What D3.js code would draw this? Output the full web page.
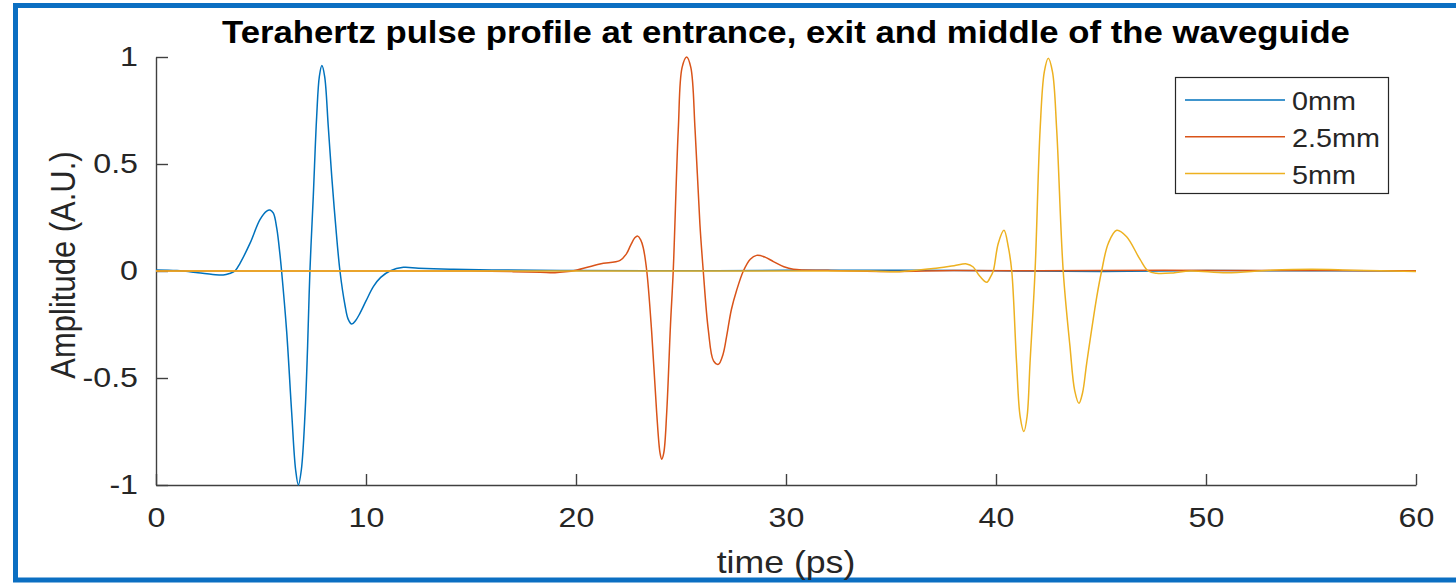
<!DOCTYPE html>
<html>
<head>
<meta charset="utf-8">
<script src="https://cdn.jsdelivr.net/npm/d3@7"></script>
<style>
  html, body { margin: 0; padding: 0; background: #fff; }
  svg { display: block; font-family: "Liberation Sans", Arial, Helvetica, sans-serif; }
</style>
</head>
<body>
<svg id="chart" width="1456" height="583"></svg>
<script>
// ---------- data ----------
const seriesNames = ["0mm", "2.5mm", "5mm"];

const t0 = [0, 1, 2, 2.7, 3.2, 3.5, 3.76, 4.0, 4.48, 4.95, 5.27, 5.43, 5.59, 5.75, 5.9, 5.98, 6.22, 6.46, 6.65, 6.78, 6.92, 7.1, 7.22, 7.33, 7.49, 7.65, 7.78, 7.9, 8.03, 8.2, 8.37, 8.55, 8.76, 9.0, 9.15, 9.32, 9.5, 9.71, 10.0, 10.35, 10.7, 11.14, 11.78, 12.5, 14, 16, 20, 25, 30, 36, 40, 45, 50, 55, 60];
const v0 = [0.005, 0.002, -0.008, -0.016, -0.019, -0.012, 0.0, 0.036, 0.13, 0.24, 0.28, 0.285, 0.27, 0.2, 0.08, 0.0, -0.28, -0.66, -0.93, -1.0, -0.93, -0.66, -0.35, 0.0, 0.35, 0.72, 0.91, 0.96, 0.91, 0.68, 0.44, 0.22, 0.0, -0.16, -0.225, -0.248, -0.232, -0.198, -0.14, -0.073, -0.03, 0.0, 0.017, 0.013, 0.008, 0.005, 0.002, 0.001, 0.003, 0.004, 0.001, -0.002, 0.002, 0.001, 0.0];

const t1 = [0, 10, 15, 17, 18.3, 19, 19.5, 20, 21.14, 22.1, 22.4, 22.6, 22.8, 22.94, 23.08, 23.2, 23.37, 23.6, 23.84, 24.0, 24.08, 24.18, 24.32, 24.5, 24.63, 24.87, 25.05, 25.27, 25.47, 25.67, 25.9, 26.06, 26.3, 26.55, 26.78, 27.0, 27.17, 27.4, 27.65, 27.97, 28.3, 28.6, 29.0, 29.4, 29.9, 30.35, 32, 35, 38, 42, 48, 52, 56, 60];
const v1 = [0.0, 0.0, 0.0, -0.003, -0.006, -0.008, -0.004, 0.004, 0.033, 0.05, 0.08, 0.12, 0.155, 0.163, 0.145, 0.11, 0.0, -0.28, -0.66, -0.85, -0.88, -0.85, -0.66, -0.25, 0.0, 0.66, 0.95, 1.0, 0.95, 0.66, 0.22, 0.0, -0.275, -0.42, -0.436, -0.39, -0.307, -0.18, -0.09, 0.0, 0.055, 0.073, 0.065, 0.044, 0.02, 0.008, 0.003, -0.002, 0.002, 0.001, 0.003, 0.002, 0.002, 0.001];

const t2 = [0, 10, 20, 30, 34, 35.4, 37.0, 38.0, 38.6, 38.9, 39.24, 39.56, 39.75, 39.87, 40.11, 40.38, 40.59, 40.75, 40.98, 41.15, 41.33, 41.48, 41.62, 41.86, 42.1, 42.3, 42.49, 42.69, 42.89, 43.2, 43.52, 43.75, 43.95, 44.12, 44.32, 44.8, 45.03, 45.35, 45.75, 46.22, 46.86, 47.25, 47.65, 48.44, 49.24, 51, 53, 55, 57, 60];
const v2 = [0.0, 0.0, 0.0, 0.0, 0.0, -0.003, 0.012, 0.025, 0.033, 0.02, -0.026, -0.053, -0.025, 0.0, 0.13, 0.19, 0.11, 0.0, -0.43, -0.68, -0.75, -0.68, -0.43, 0.0, 0.66, 0.93, 0.994, 0.93, 0.66, 0.0, -0.35, -0.56, -0.618, -0.57, -0.43, -0.12, 0.0, 0.13, 0.19, 0.16, 0.054, 0.0, -0.011, -0.009, 0.0, -0.008, 0.003, 0.008, 0.004, -0.002];

const xTicks = [0, 10, 20, 30, 40, 50, 60];
const yTicks = [-1, -0.5, 0, 0.5, 1];
const yTickLabels = ["-1", "-0.5", "0", "0.5", "1"];

const titleText = "Terahertz pulse profile at entrance, exit and middle of the waveguide";
const xLabel = "time (ps)";
const yLabel = "Amplitude (A.U.)";

// ---------- drawing ----------
const colors = ["#0072BD", "#D95319", "#EDB120"];
const svg = d3.select("#chart");
const stretch = 1.15; // reference glyphs are horizontally widened

// outer blue frame
svg.append("rect")
  .attr("x", 15.5).attr("y", 5.5)
  .attr("width", 1456).attr("height", 574.5)
  .attr("fill", "#fff")
  .attr("stroke", "#0B6FC2")
  .attr("stroke-width", 5);

const x = d3.scaleLinear().domain([0, 60]).range([156, 1416]);
const y = d3.scaleLinear().domain([-1, 1]).range([485, 57]);

const axisColor = "#404040";
const textColor = "#262626";

// x axis
const gx = svg.append("g")
  .attr("transform", `translate(0,${y(-1)})`)
  .call(d3.axisBottom(x).tickValues(xTicks).tickFormat(d3.format("d"))
    .tickSizeInner(-11).tickSizeOuter(0).tickPadding(22));
gx.select(".domain").attr("stroke", axisColor).attr("stroke-width", 1.4);
gx.selectAll(".tick line").attr("stroke", axisColor).attr("stroke-width", 1.4);
gx.selectAll(".tick text").attr("fill", textColor).attr("font-size", 28)
  .attr("font-family", "Liberation Sans, Arial, sans-serif")
  .attr("transform", `scale(${stretch},1)`);

// y axis
const gy = svg.append("g")
  .attr("transform", `translate(${x(0)},0)`)
  .call(d3.axisLeft(y).tickValues(yTicks).tickFormat((d, i) => yTickLabels[i])
    .tickSizeInner(-12).tickSizeOuter(0).tickPadding(18));
gy.select(".domain").attr("stroke", axisColor).attr("stroke-width", 1.4);
gy.selectAll(".tick line").attr("stroke", axisColor).attr("stroke-width", 1.4);
gy.selectAll(".tick text").attr("fill", textColor).attr("font-size", 28)
  .attr("font-family", "Liberation Sans, Arial, sans-serif")
  .attr("x", -18 / stretch)
  .attr("transform", `scale(${stretch},1)`);

// lines
const series = [
  { name: seriesNames[0], t: t0, v: v0 },
  { name: seriesNames[1], t: t1, v: v1 },
  { name: seriesNames[2], t: t2, v: v2 }
];
const line = d3.line()
  .x(d => x(d[0]))
  .y(d => y(d[1]))
  .curve(d3.curveCatmullRom.alpha(0.5));

svg.append("g").selectAll("path")
  .data(series)
  .join("path")
  .attr("d", s => line(s.t.map((tt, i) => [tt, s.v[i]])))
  .attr("fill", "none")
  .attr("stroke", (s, i) => colors[i])
  .attr("stroke-width", 1.5)
  .attr("stroke-linejoin", "round");

// title
svg.append("text")
  .attr("transform", `translate(${(x(0) + x(60)) / 2},43) scale(1.12,1)`)
  .attr("text-anchor", "middle")
  .attr("font-size", 31).attr("font-weight", "bold")
  .attr("fill", "#000")
  .text(titleText);

// axis labels
svg.append("text")
  .attr("transform", `translate(${(x(0) + x(60)) / 2},573) scale(${stretch},1)`)
  .attr("text-anchor", "middle")
  .attr("font-size", 31).attr("fill", textColor)
  .text(xLabel);

svg.append("text")
  .attr("transform", `translate(75,${(y(-1) + y(1)) / 2 - 6}) rotate(-90) scale(1,${stretch})`)
  .attr("text-anchor", "middle")
  .attr("font-size", 31).attr("fill", textColor)
  .text(yLabel);

// legend
const legend = svg.append("g");
legend.append("rect")
  .attr("x", 1175.5).attr("y", 77.5)
  .attr("width", 213).attr("height", 116)
  .attr("fill", "#fff").attr("stroke", "#262626").attr("stroke-width", 1.2);

const ly = d3.scalePoint().domain(seriesNames).range([100, 173.5]);
const items = legend.selectAll("g.item").data(seriesNames).join("g").attr("class", "item");
items.append("line")
  .attr("x1", 1185).attr("x2", 1285)
  .attr("y1", d => ly(d)).attr("y2", d => ly(d))
  .attr("stroke", (d, i) => colors[i]).attr("stroke-width", 1.5);
items.append("text")
  .attr("transform", d => `translate(1292,${ly(d) + 10}) scale(${stretch},1)`)
  .attr("font-size", 25).attr("fill", textColor)
  .text(d => d);
</script>
</body>
</html>
